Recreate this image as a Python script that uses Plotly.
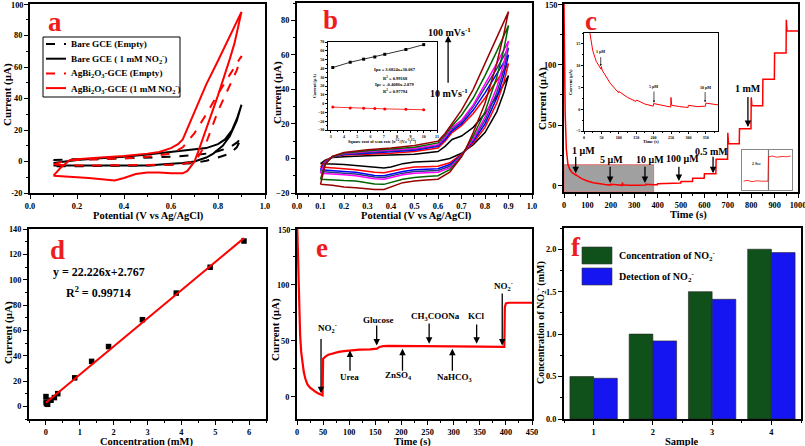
import plotly.graph_objects as go

W, H = 805, 446
SERIF = "Liberation Serif"

# ---------------- Panel a : CV curves ----------------
a_bare_empty_E = [0.10, 0.20, 0.30, 0.40, 0.50, 0.60, 0.70, 0.75, 0.80, 0.85, 0.88, 0.90,
                  0.88, 0.85, 0.80, 0.75, 0.70, 0.60, 0.50, 0.40, 0.30, 0.20, 0.10, 0.10]
a_bare_empty_I = [1, 1.5, 1.5, 2, 2.5, 3, 4, 5, 6.5, 9, 12, 15,
                  9, 5, 2.5, 0.5, -1, -2, -2.5, -2.8, -3, -3, -3, 1]
a_bare_no2_E = [0.10, 0.15, 0.20, 0.30, 0.40, 0.50, 0.60, 0.70, 0.75, 0.80, 0.83, 0.86, 0.88, 0.90,
                0.88, 0.85, 0.82, 0.78, 0.75, 0.70, 0.65, 0.60, 0.50, 0.40, 0.30, 0.20, 0.10]
a_bare_no2_I = [-1, 0, 1, 2, 3, 4.5, 6, 7.5, 8.5, 11, 14, 20, 27, 36,
                26, 16, 10, 5, 2.5, 0, -1, -1.5, -2.5, -2.5, -2.5, -2.5, -2.5]
a_ag_empty_E = [0.10, 0.15, 0.20, 0.30, 0.40, 0.50, 0.60, 0.65, 0.70, 0.75, 0.80, 0.85, 0.90,
                0.88, 0.85, 0.80, 0.77, 0.75, 0.72, 0.70, 0.65, 0.60, 0.50, 0.40, 0.30, 0.20, 0.10]
a_ag_empty_I = [-2, 0.5, 1, 1.5, 2, 3, 5, 9, 18, 30, 43, 55, 67,
                58, 48, 32, 20, 12, 4, 0, -1.5, -2, -2.2, -2.5, -2.5, -2.5, -2]
a_ag_no2_E = [0.10, 0.13, 0.17, 0.20, 0.30, 0.40, 0.50, 0.55, 0.60, 0.63, 0.65, 0.70, 0.75, 0.80, 0.85, 0.90,
              0.87, 0.85, 0.80, 0.75, 0.72, 0.70, 0.67, 0.65, 0.60, 0.55, 0.50, 0.45, 0.40, 0.36, 0.30, 0.25, 0.20, 0.15, 0.10]
a_ag_no2_I = [-9, -4, 1, 1.5, 2.5, 3.5, 5, 6, 8.5, 11, 14, 32, 49, 64, 79, 95,
              75, 65, 42, 20, 8, 0, -6, -7.5, -7.5, -7, -7, -8, -10.5, -12, -11, -10.5, -10, -9.5, -9]
a_names = ["Bare GCE (Empty)",
           "Bare GCE ( 1 mM NO<sub>2</sub><sup>-</sup>)",
           "AgBi<sub>2</sub>O<sub>3</sub>-GCE (Empty)",
           "AgBi<sub>2</sub>O<sub>3</sub>-GCE (1 mM NO<sub>2</sub><sup>-</sup>)"]
a_colors = ["black", "black", "red", "red"]
a_dashes = ["dash", "solid", "dash", "solid"]
a_yticks = [-20, 0, 20, 40, 60, 80, 100]

# ---------------- Panel b : CV at scan rates ----------------
b_E = [0.10, 0.12, 0.15, 0.20, 0.30, 0.40, 0.50, 0.60, 0.63, 0.66, 0.68, 0.70, 0.75, 0.80, 0.85, 0.90,
       0.88, 0.85, 0.80, 0.75, 0.72, 0.70, 0.65, 0.60, 0.55, 0.50, 0.45, 0.40, 0.37, 0.33, 0.30, 0.25, 0.20, 0.15, 0.10]
b_I_10 = [-3, -1, 0.5, 1, 1.5, 2, 2.5, 4, 7, 11, 12, 13, 18, 26, 36, 48,
          38, 27, 15, 8, 5, 3, 0, -1.5, -1.8, -2, -3, -5, -5.5, -5, -4.5, -4, -3.5, -3.2, -3]
b_I_20 = [-5, -1.5, 0.8, 2, 2.5, 3, 4, 6, 10, 15, 17, 19, 26, 35, 45, 55,
          44, 32, 18, 9, 5, 2.5, -2.5, -4.5, -4.8, -5, -6, -7.5, -8.3, -8, -7.3, -6.5, -6, -5.5, -5]
b_I_30 = [-6.5, -2, 0.8, 2.3, 3, 3.7, 4.8, 7, 11, 16, 18, 20, 28, 38, 49, 60,
          48, 35, 20, 10, 5.5, 2, -3.5, -6, -6.3, -6.5, -7.5, -9, -10, -9.8, -9, -8, -7.5, -7, -6.5]
b_I_40 = [-7.5, -2.2, 0.9, 2.6, 3.5, 4.2, 5.3, 7.5, 12, 17, 19, 21, 30, 41, 52, 64,
          51, 38, 22, 11, 5.5, 1.8, -4.5, -7, -7.3, -7.5, -8.5, -10, -11, -10.8, -10, -9, -8.5, -8, -7.5]
b_I_50 = [-8.5, -2.5, 1, 2.8, 4, 4.7, 5.8, 8, 12.5, 18, 20, 22, 31, 43, 55, 68,
          55, 41, 24, 11.5, 5.5, 1.5, -5.5, -8, -8.3, -8.5, -9.5, -11, -12, -11.8, -11, -10, -9.5, -9, -8.5]
b_I_75 = [-12, -3, 1, 3.2, 4.5, 5.3, 6.5, 9, 13.5, 19, 22, 25, 35, 48, 62, 77,
          63, 47, 27, 13, 6, 1.2, -6.5, -10, -10.5, -11, -12, -14, -15, -14.8, -14, -13, -12.8, -12.5, -12]
b_I_100 = [-15, -3.5, 1.2, 3.5, 5, 6, 7.5, 10, 14.5, 20, 24, 28, 40, 55, 70, 85,
           72, 55, 32, 15, 6, 1, -8, -12, -12.5, -13, -14, -16.5, -18, -18, -17.5, -17, -16.5, -15.5, -15]
b_curves = [b_I_10, b_I_20, b_I_30, b_I_40, b_I_50, b_I_75, b_I_100]
b_colors = ["#000000", "#ff0000", "#0000ff", "#1f3f7f", "#ff00ff", "#006400", "#990000"]
# inset b
b_sqrt_rate = [3.16, 4.47, 5.48, 6.32, 7.07, 8.66, 10.0]
b_ipa = [41, 47, 50.5, 53, 56, 61.5, 67]
b_ipc = [-4, -5, -5.3, -5.6, -6, -6.5, -7]

# ---------------- Panel c : amperometry ----------------
c_t = [0, 2, 5, 10, 17, 25, 35, 49, 50, 52, 75, 99, 100, 125, 149, 151, 175, 199, 200, 225,
       249, 250, 252, 275, 299, 300, 325, 349, 350, 385, 399, 400, 449, 450, 499, 500, 549, 550, 599, 600,
       649, 650, 699, 700, 703, 749, 750, 799, 800, 803, 849, 850, 899, 900, 949, 950, 953, 1000]
c_i = [150, 110, 60, 30, 17.5, 13.5, 11, 9.2, 9.8, 9, 6, 3.8, 4.1, 2.7, 1.8, 2.1, 1.2, 0.7, 1.3, 0.9,
       0.5, 2.7, 0.9, 0.6, 0.4, 0.9, 0.6, 0.7, 1.4, 1.0, 0.9, 1.9, 1.9, 2.5, 2.5, 3.6, 3.6, 6.3, 6.3, 10.1,
       10.1, 21.9, 21.9, 43.8, 34.8, 34.8, 47.1, 47.1, 73, 66.2, 66.2, 88, 88, 109.5, 109.5, 137, 127.8, 127.8]
c_yticks = [0, 50, 100, 150]
c_zoom_t = [0, 383]
c_zoom_i = [-5, 17.5]
c_small_x = [0.3, 1, 2, 3, 4, 5.2, 5.3, 6, 7, 8, 9, 9.7]
c_small_y = [2.2, 2.4, 2.1, 2.3, 2.2, 2.2, 8.3, 8.5, 8.2, 8.4, 8.3, 8.5]

# ---------------- Panel d : calibration ----------------
d_conc = [0.001, 0.006, 0.016, 0.05, 0.15, 0.25, 0.35, 0.85, 1.35, 1.85, 2.85, 3.85, 4.85, 5.85]
d_curr = [7.7, 3.4, 2.1, 1.6, 4.8, 6.9, 10, 22.5, 35.5, 47.2, 68.4, 89.4, 109.8, 130.5]
d_fit_x = [0.0, 5.85]
d_fit_y = [2.77, 132.79]

# ---------------- Panel e : interference ----------------
e_t = [0, 2, 4, 6, 8, 10, 13, 16, 20, 25, 30, 35, 40, 45, 49, 50, 52, 55, 60, 70,
       80, 90, 100, 120, 140, 150, 153, 158, 165, 175, 200, 250, 300, 350, 397, 398, 400, 405, 420, 450]
e_i = [160, 120, 80, 55, 40, 30, 22, 16, 11, 8, 6, 4.5, 3, 2, 1.2, 34, 35, 36, 37.5, 39,
       40, 40.8, 41.3, 42, 42.3, 42.5, 43, 44.5, 45.2, 45.5, 45.3, 45.2, 45, 44.8, 44.5, 80, 83.5, 84, 84, 84]
e_yticks = [0, 50, 100, 150]

# ---------------- Panel f : real samples ----------------
f_samples = [1, 2, 3, 4]
f_conc = [0.5, 1.0, 1.5, 2.0]
f_det = [0.48, 0.92, 1.41, 1.96]
f_colors = ["#10501a", "#1515f2"]


def P(xp, yp):
    return xp / W, 1 - yp / H


def dom(x0, x1, y0, y1):
    return [x0 / W, x1 / W], [1 - y1 / H, 1 - y0 / H]


TICKSIZE = 8.3


def axis(domain, rng, dtick, mdtick, fmt=None, size=TICKSIZE, lw=2, tl=4, anchor=None, show=True):
    d = dict(domain=domain, range=rng, showline=True, linecolor="black", linewidth=lw, mirror=True,
             ticks="outside", ticklen=tl, tickwidth=max(1, lw * 0.7), tickcolor="black",
             showgrid=False, zeroline=False, dtick=dtick, tick0=0, automargin=False,
             showticklabels=show, ticklabeloverflow="allow",
             tickfont=dict(family=SERIF, size=size, color="black", weight="bold"),
             minor=dict(ticks="outside", ticklen=max(1, tl / 2), tickwidth=1, tickcolor="black",
                        dtick=mdtick, tick0=0, showgrid=False))
    if fmt:
        d["tickformat"] = fmt
    if anchor:
        d["anchor"] = anchor
    return d


def top_label_axis(d, vals):
    # the top tick label is written as a paper annotation (see top_tick below)
    d["tickmode"] = "array"
    d["tickvals"] = vals
    d["ticktext"] = [str(v) for v in vals[:-1]] + [""]
    return d


fig = go.Figure()

# panel a
for E, I, nm, col, ds in zip([a_bare_empty_E, a_bare_no2_E, a_ag_empty_E, a_ag_no2_E],
                             [a_bare_empty_I, a_bare_no2_I, a_ag_empty_I, a_ag_no2_I],
                             a_names, a_colors, a_dashes):
    fig.add_trace(go.Scatter(x=E, y=I, mode="lines", name=nm, showlegend=False,
                             line=dict(color=col, width=2, dash=ds), xaxis="x", yaxis="y"))

# panel b
for cur, col in zip(b_curves, b_colors):
    fig.add_trace(go.Scatter(x=b_E, y=cur, mode="lines", line=dict(color=col, width=1.5),
                             showlegend=False, xaxis="x2", yaxis="y2"))
fig.add_trace(go.Scatter(x=b_sqrt_rate, y=b_ipa, mode="lines+markers", showlegend=False,
                         line=dict(color="black", width=0.8),
                         marker=dict(symbol="square", size=3, color="black"), xaxis="x7", yaxis="y7"))
fig.add_trace(go.Scatter(x=b_sqrt_rate, y=b_ipc, mode="lines+markers", showlegend=False,
                         line=dict(color="red", width=0.8),
                         marker=dict(symbol="circle", size=3, color="red"), xaxis="x7", yaxis="y7"))

# panel c
fig.add_trace(go.Scatter(x=c_t, y=c_i, mode="lines", line=dict(color="red", width=1.5),
                         showlegend=False, xaxis="x3", yaxis="y3"))
fig.add_trace(go.Scatter(x=c_t, y=c_i, mode="lines", line=dict(color="red", width=1),
                         showlegend=False, xaxis="x8", yaxis="y8"))
fig.add_trace(go.Scatter(x=[5.3, 5.3], y=[0, 10], mode="lines", line=dict(color="#777", width=1.2),
                         showlegend=False, xaxis="x9", yaxis="y9"))
fig.add_trace(go.Scatter(x=c_small_x, y=c_small_y, mode="lines", line=dict(color="red", width=0.8),
                         showlegend=False, xaxis="x9", yaxis="y9"))

# panel d
fig.add_trace(go.Scatter(x=d_conc, y=d_curr, mode="markers", showlegend=False,
                         marker=dict(symbol="square", size=5.5, color="black"), xaxis="x4", yaxis="y4"))
fig.add_trace(go.Scatter(x=d_fit_x, y=d_fit_y, mode="lines", showlegend=False,
                         line=dict(color="red", width=2), xaxis="x4", yaxis="y4"))

# panel e
fig.add_trace(go.Scatter(x=e_t, y=e_i, mode="lines", line=dict(color="red", width=2.2),
                         showlegend=False, xaxis="x5", yaxis="y5"))

# panel f
fig.add_trace(go.Bar(x=f_samples, y=f_conc, marker=dict(color=f_colors[0], line=dict(color="#222", width=0.6)),
                     showlegend=False, xaxis="x6", yaxis="y6", offsetgroup="c"))
fig.add_trace(go.Bar(x=f_samples, y=f_det, marker=dict(color=f_colors[1], line=dict(color="#222", width=0.6)),
                     showlegend=False, xaxis="x6", yaxis="y6", offsetgroup="d"))

# domains
ax_a, ay_a = dom(30, 265, 4, 193)
ax_b, ay_b = dom(297, 532, 3, 193)
ax_c, ay_c = dom(564, 798, 4, 192)
ax_d, ay_d = dom(29, 266, 229, 419)
ax_e, ay_e = dom(297, 532, 229, 419)
ax_f, ay_f = dom(564, 801, 228, 419)
ax_bi, ay_bi = dom(328, 437, 42, 130)
ax_ci, ay_ci = dom(584, 718, 33, 131)
ax_cs, ay_cs = dom(742, 792, 150, 190)

layout = dict(
    width=W, height=H, margin=dict(l=0, r=0, t=0, b=0),
    paper_bgcolor="white", plot_bgcolor="rgba(0,0,0,0)",
    font=dict(family=SERIF, color="black", weight="bold"),
    showlegend=False,
    barmode="group", bargap=0.2, bargroupgap=0,
    xaxis=axis(ax_a, [0, 1.0], 0.2, 0.1, ".1f", anchor="y"),
    yaxis=top_label_axis(axis(ay_a, [-20, 100], 20, 10, anchor="x"), a_yticks),
    xaxis2=axis(ax_b, [0, 1.0], 0.1, 0.05, ".1f", anchor="y2"),
    yaxis2=axis(ay_b, [-20, 90], 20, 10, anchor="x2"),
    xaxis3=axis(ax_c, [0, 1000], 100, 50, anchor="y3"),
    yaxis3=top_label_axis(axis(ay_c, [-5, 150], 50, 25, anchor="x3"), c_yticks),
    xaxis4=axis(ax_d, [-0.5, 6.5], 1, 0.5, anchor="y4"),
    yaxis4=axis(ay_d, [-10, 140], 20, 10, anchor="x4"),
    xaxis5=axis(ax_e, [0, 450], 50, 25, anchor="y5"),
    yaxis5=top_label_axis(axis(ay_e, [-20, 150], 50, 25, anchor="x5"), e_yticks),
    xaxis6=axis(ax_f, [0.5, 4.5], 1, 0.5, anchor="y6"),
    yaxis6=axis(ay_f, [0, 2.25], 0.5, 0.25, ".1f", anchor="x6"),
    xaxis7=axis(ax_bi, [2.8, 11], 1, 0.5, size=4, lw=1, tl=2, anchor="y7"),
    yaxis7=axis(ay_bi, [-30, 70], 10, 5, size=4, lw=1, tl=2, anchor="x7"),
    xaxis8=axis(ax_ci, [0, 385], 50, 25, size=4, lw=1, tl=2, anchor="y8"),
    yaxis8=axis(ay_ci, [-5, 17.5], 5, 2.5, size=4, lw=1, tl=2, anchor="x8"),
    xaxis9=axis(ax_cs, [0, 10], 2, 1, lw=1, tl=1, anchor="y9", show=False),
    yaxis9=axis(ay_cs, [0, 10], 2, 1, lw=1, tl=1, anchor="x9", show=False),
)
for k in ["xaxis9", "yaxis9"]:
    layout[k]["linecolor"] = "#888"
    layout[k]["ticks"] = ""
    layout[k]["minor"]["ticks"] = ""
fig.update_layout(**layout)

# shapes
shapes = [
    dict(type="rect", xref="x3", yref="y3", x0=c_zoom_t[0], x1=c_zoom_t[1], y0=c_zoom_i[0], y1=c_zoom_i[1],
         fillcolor="rgb(160,160,160)", line=dict(color="rgb(240,110,110)", width=1), layer="below"),
]


def prect(x0p, y0p, x1p, y1p, fill, lc="#333", lw=0.6):
    x0, yy1 = P(x0p, y0p)
    x1, yy0 = P(x1p, y1p)
    shapes.append(dict(type="rect", xref="paper", yref="paper", x0=x0, x1=x1, y0=yy0, y1=yy1,
                       fillcolor=fill, line=dict(color=lc, width=lw)))


# panel f legend swatches
prect(582, 247, 612, 264, f_colors[0])
prect(582, 268, 612, 285, f_colors[1])
# panel a legend box and keys
prect(43, 37, 180, 97, "rgba(0,0,0,0)", lc="black", lw=1)
for i, (col, ds) in enumerate(zip(a_colors, a_dashes)):
    yk = 44 + i * 14.7
    x0, y0 = P(46, yk)
    x1, _ = P(66, yk)
    shapes.append(dict(type="line", xref="paper", yref="paper", x0=x0, x1=x1, y0=y0, y1=y0,
                       line=dict(color=col, width=2, dash=ds)))
fig.update_layout(shapes=shapes)

ann = []


def txt(xp, yp, s, size, color="black", angle=0, xanchor="center"):
    x, y = P(xp, yp)
    ann.append(dict(x=x, y=y, xref="paper", yref="paper", text=s, showarrow=False, textangle=angle,
                    xanchor=xanchor, yanchor="middle",
                    font=dict(family=SERIF, size=size, color=color, weight="bold")))


def dtxt(x, y, s, size, xr, yr, xanchor="center"):
    ann.append(dict(x=x, y=y, xref=xr, yref=yr, text=s, showarrow=False, xanchor=xanchor,
                    yanchor="middle", font=dict(family=SERIF, size=size, color="black", weight="bold")))


def arr(x, y, ax, ay, xr, yr, w=1.3, hs=1.0):
    ann.append(dict(x=x, y=y, ax=ax, ay=ay, xref=xr, yref=yr, axref=xr, ayref=yr, text="",
                    showarrow=True, arrowhead=2, arrowsize=hs, arrowwidth=w, arrowcolor="black"))


def top_tick(value, x_axis_px, y_top_px):
    # label for the top tick, placed at the top edge of the panel (paper coordinates)
    x, y = P(x_axis_px - 6, y_top_px + 1)
    ann.append(dict(x=x, y=y, xref="paper", yref="paper", text=str(value),
                    showarrow=False, xanchor="right", yanchor="middle", borderpad=0,
                    font=dict(family=SERIF, size=TICKSIZE, color="black", weight="bold")))


top_tick(a_yticks[-1], 30, 4)
top_tick(c_yticks[-1], 564, 4)
top_tick(e_yticks[-1], 297, 229)

# legend a texts
for i, nm in enumerate(a_names):
    txt(69, 44 + i * 14.7, nm, 9.2, xanchor="left")

# panel letters
RED = "#ee1c1c"
txt(55, 22, "a", 27, RED)
txt(330, 20, "b", 27, RED)
txt(591, 21, "c", 27, RED)
txt(57, 250, "d", 27, RED)
txt(322, 248, "e", 27, RED)
txt(576, 247, "f", 27, RED)

# axis titles
MU = "\u03bcA"
txt(148, 216, "Potential (V vs Ag/AgCl)", 10.5)
txt(7, 95, "Current (" + MU + ")", 11, angle=-90)
txt(416, 216, "Potential (V vs Ag/AgCl)", 10.5)
txt(277, 93, "Current (" + MU + ")", 11, angle=-90)
txt(688, 215, "Time (s)", 10.5)
txt(543, 99, "Current (" + MU + ")", 11, angle=-90)
txt(147, 441.5, "Concentration (mM)", 10.5)
txt(8, 333, "Current (" + MU + ")", 11, angle=-90)
txt(412, 441.5, "Time (s)", 10.5)
txt(275, 330, "Current (" + MU + ")", 11, angle=-90)
txt(682, 441, "Sample", 10.5)
txt(541, 323, "Concentration of NO<sub>2</sub><sup>-</sup> (mM)", 10, angle=-90)

# panel b annotations
dtxt(0.647, 73, "100 mVs<sup>-1</sup>", 10, "x2", "y2")
dtxt(0.647, 38, "10 mVs<sup>-1</sup>", 10, "x2", "y2")
arr(0.643, 71, 0.643, 43, "x2", "y2")
for yv, s in [(38.6, "Ipa = 3.6824x+30.067"), (29.6, "R<sup>2</sup> = 0.99168"),
              (22, "Ipc = -0.4086x-2.879"), (14.2, "R<sup>2</sup> = 0.97794")]:
    dtxt(7.85, yv, s, 4.5, "x7", "y7")
txt(382, 141, "Square root of scan rate [\u03c5<sup>1/2</sup>/(V.s<sup>-1</sup>)<sup>1/2</sup>]", 4.2)
txt(314, 86, "Current (" + MU + ")", 4.2, angle=-90)

# panel c annotations
for (tx, ty, s, axx, ay0, ay1) in [(85, 29.5, "1 \u03bcM", 50, 25.4, 10.5),
                                   (205, 22, "5 \u03bcM", 197, 17, 2.5),
                                   (367, 22, "10 \u03bcM", 346, 17, 2.5),
                                   (505, 23, "100 \u03bcM", 491, 17, 4),
                                   (632, 28.7, "0.5 mM", 637, 25.4, 10.5),
                                   (786, 80, "1 mM", 786, 74.6, 48.5)]:
    dtxt(tx, ty, s, 10, "x3", "y3")
    arr(axx, ay1, axx, ay0, "x3", "y3")
for (tx, ty, s, a0, a1) in [(48, 13.2, "1 \u03bcM", 12.3, 9.9), (201, 5.2, "5 \u03bcM", 4.4, 1.5),
                            (348, 5.0, "10 \u03bcM", 4.3, 1.6)]:
    dtxt(tx, ty, s, 4, "x8", "y8")
    arr(tx, a1, tx, a0, "x8", "y8", w=0.7, hs=0.6)
txt(651, 141, "Time (s)", 4.5)
txt(571, 82, "Current (" + MU + ")", 4.5, angle=-90)
dtxt(2.8, 6.7, "2 Sec", 4, "x9", "y9")

# panel d annotations
txt(99, 272, "y = 22.226x+2.767", 12)
txt(98, 292, "R<sup>2</sup> = 0.99714", 12)

# panel e annotations
NO2 = "NO<sub>2</sub><sup>-</sup>"
for (tx, ty, s, axx, a_from, a_to) in [(58, 62, NO2, 46, 53, 3),
                                       (101, 17.4, "Urea", 101.5, 21.9, 41.3),
                                       (156, 69, "Glucose", 152.6, 65, 45.8),
                                       (194, 18.9, "ZnSO<sub>4</sub>", 202, 21.9, 42.8),
                                       (265, 72, "CH<sub>3</sub>COONa", 253, 66.8, 47.3),
                                       (301, 17.4, "NaHCO<sub>3</sub>", 297.5, 21.9, 42.8),
                                       (343, 72, "KCl", 344, 66, 47.3),
                                       (395, 99.7, NO2, 393, 93.7, 45.8)]:
    dtxt(tx, ty, s, 9, "x5", "y5")
    arr(axx, a_to, axx, a_from, "x5", "y5")

# panel f legend text
txt(617, 256, "Concentration of " + NO2, 10, xanchor="left")
txt(617, 277, "Detection of " + NO2, 10, xanchor="left")

fig.update_layout(annotations=ann)
fig.write_html("out.html", config={"displayModeBar": False},
               post_script="document.body.style.margin='0px';")
